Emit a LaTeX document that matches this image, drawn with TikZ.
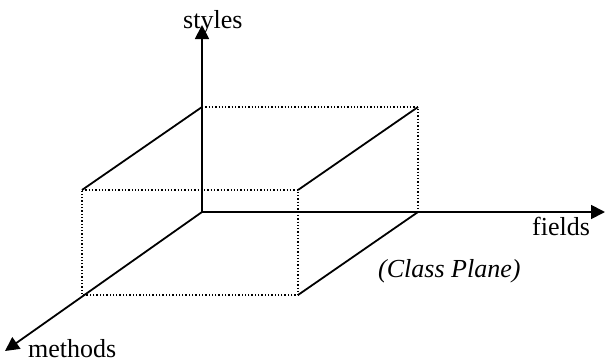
\documentclass[tikz,border=0pt]{standalone}
\usepackage{fontspec}
\setmainfont{Liberation Serif}
\usetikzlibrary{arrows.meta,positioning,calc}

\begin{document}
\begin{tikzpicture}[x=1pt,y=-1pt,
  axis/.style={line width=1.8pt,-{Triangle[length=14pt,width=14pt]}},
  edge/.style={line width=1.8pt},
  hidden/.style={dotted,line width=1.3pt},
  lbl/.style={font=\fontsize{26}{30}\selectfont,inner sep=0pt,anchor=base west}]
\useasboundingbox (0,0) rectangle (605,362);
% axes
\coordinate (o) at (202,212);
\coordinate (up) at (202,25);
\coordinate (right) at (605,212);
\coordinate (down) at (5,351);
\draw[axis] (o) -- (up);
\draw[axis] (o) -- (right);
\draw[axis] (o) -- (down);
\node[lbl] (styles) at (183,28) {styles};
\node[lbl] (fields) at (532,235) {fields};
\node[lbl] (methods) at (28,357) {methods};
\node[lbl] (plane) at (378,277) {\itshape (Class Plane)};
% box
\coordinate (bt) at (202,107);
\coordinate (br) at (418,107);
\coordinate (bb) at (418,212);
\coordinate (fa) at (82,190);
\coordinate (fb) at (298,190);
\coordinate (fc) at (298,295);
\coordinate (fd) at (82,295);
\draw[hidden] (bt) -- (br) -- (bb);
\draw[hidden] (fa) -- (fb) -- (fc) -- (fd) -- cycle;
\draw[edge] (fa) -- (bt);
\draw[edge] (fb) -- (br);
\draw[edge] (fc) -- (bb);
\end{tikzpicture}
\end{document}
